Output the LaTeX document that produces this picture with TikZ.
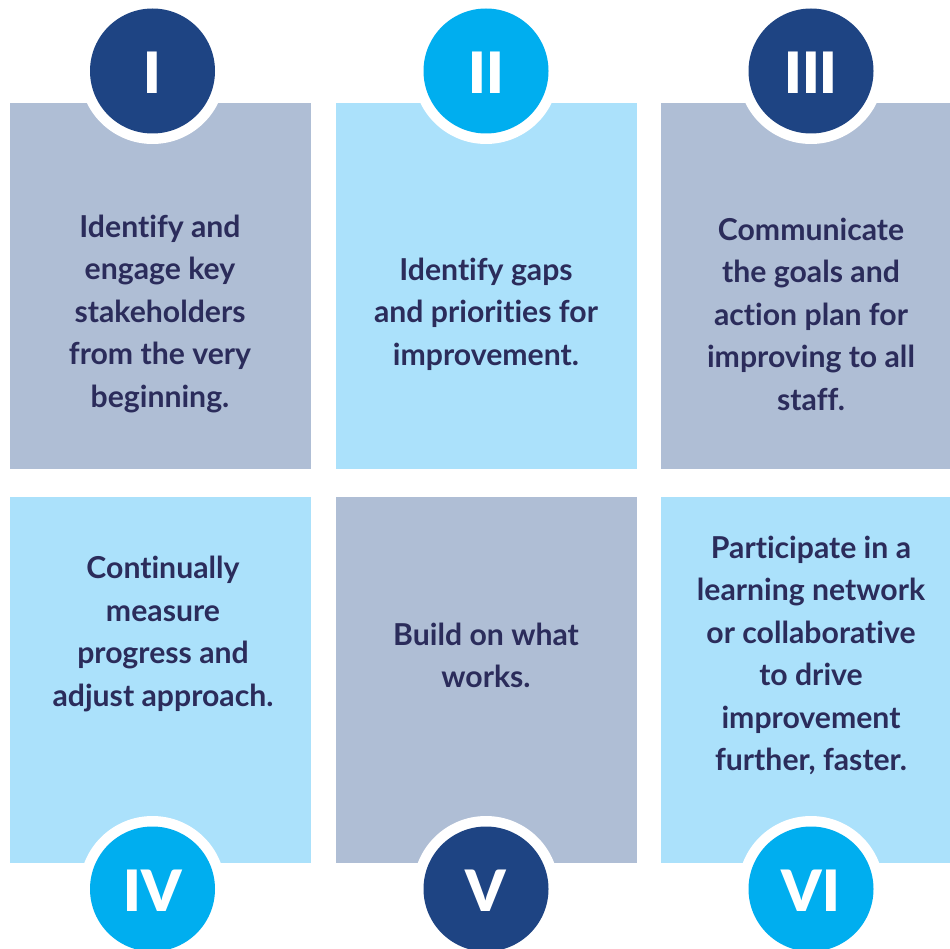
\documentclass[tikz,border=0pt]{standalone}
\usepackage{fontspec}
\setmainfont{Lato}[Ligatures=NoCommon]
\IfFontExistsTF{Lato Black}{\newfontfamily\numfont{Lato Black}}{\newfontfamily\numfont{Lato}[UprightFont=* Bold,FakeBold=1.2]}
\definecolor{navy}{HTML}{1E4483}
\definecolor{cyanc}{HTML}{00AEEF}
\definecolor{greybox}{HTML}{AFBED5}
\definecolor{lightbox}{HTML}{ABE1FB}
\definecolor{txt}{HTML}{2B2C5B}
\begin{document}
\begin{tikzpicture}[x=1pt,y=-1pt,
  boxg/.style={fill=greybox,draw=none},
  boxl/.style={fill=lightbox,draw=none},
  ring/.style={circle,fill=white,minimum size=146pt,inner sep=0pt},
  badgeN/.style={circle,fill=navy,minimum size=125pt,inner sep=0pt},
  badgeC/.style={circle,fill=cyanc,minimum size=125pt,inner sep=0pt},
  numtxt/.style={anchor=base,text=white,font=\fontsize{57}{57}\selectfont\numfont,inner sep=0pt},
  bodytxt/.style={align=center,text=txt,font=\fontsize{30.2}{42.5}\selectfont\bfseries,inner sep=0pt}
]
\useasboundingbox (0,0) rectangle (950,949);
\fill[white] (0,0) rectangle (950,949);
% boxes
\path[boxg] (10,103) rectangle (311,469);
\path[boxl] (336,103) rectangle (637,469);
\path[boxg] (661,103) rectangle (950,469);
\path[boxl] (10,497) rectangle (311,863);
\path[boxg] (336,497) rectangle (637,863);
\path[boxl] (661,497) rectangle (950,863);
% rings and badges
\node[ring] (r1) at (152.5,71) {};
\node[ring] (r2) at (486,71) {};
\node[ring] (r3) at (811,71) {};
\node[ring] (r4) at (152.5,889) {};
\node[ring] (r5) at (486,889) {};
\node[ring] (r6) at (811,889) {};
\node[badgeN] (c1) at (152.5,71) {};
\node[badgeC] (c2) at (486,71) {};
\node[badgeN] (c3) at (811,71) {};
\node[badgeC] (c4) at (152.5,889) {};
\node[badgeN] (c5) at (486,889) {};
\node[badgeC] (c6) at (811,889) {};
\node[numtxt] (n1) at (152.5,94) {I};
\node[numtxt] (n2) at (486,94) {II};
\node[numtxt] (n3) at (811,94) {III};
\node[numtxt] (n4) at (152.5,911.5) {IV};
\node[numtxt] (n5) at (486,911.5) {V};
\node[numtxt] (n6) at (811,911.5) {VI};
% texts
\node[bodytxt] (t1) at (160,314) {Identify and\\engage key\\stakeholders\\from the very\\beginning.};
\node[bodytxt] (t2) at (486,314) {Identify gaps\\and priorities for\\improvement.};
\node[bodytxt] (t3) at (811,314) {Communicate\\the goals and\\action plan for\\improving to all\\staff.};
\node[bodytxt] (t4) at (163,634) {Continually\\measure\\progress and\\adjust approach.};
\node[bodytxt] (t5) at (486,655.5) {Build on what\\works.};
\node[bodytxt] (t6) at (811,655.5) {Participate in a\\learning network\\or collaborative\\to drive\\improvement\\further, faster.};
\end{tikzpicture}
\end{document}
